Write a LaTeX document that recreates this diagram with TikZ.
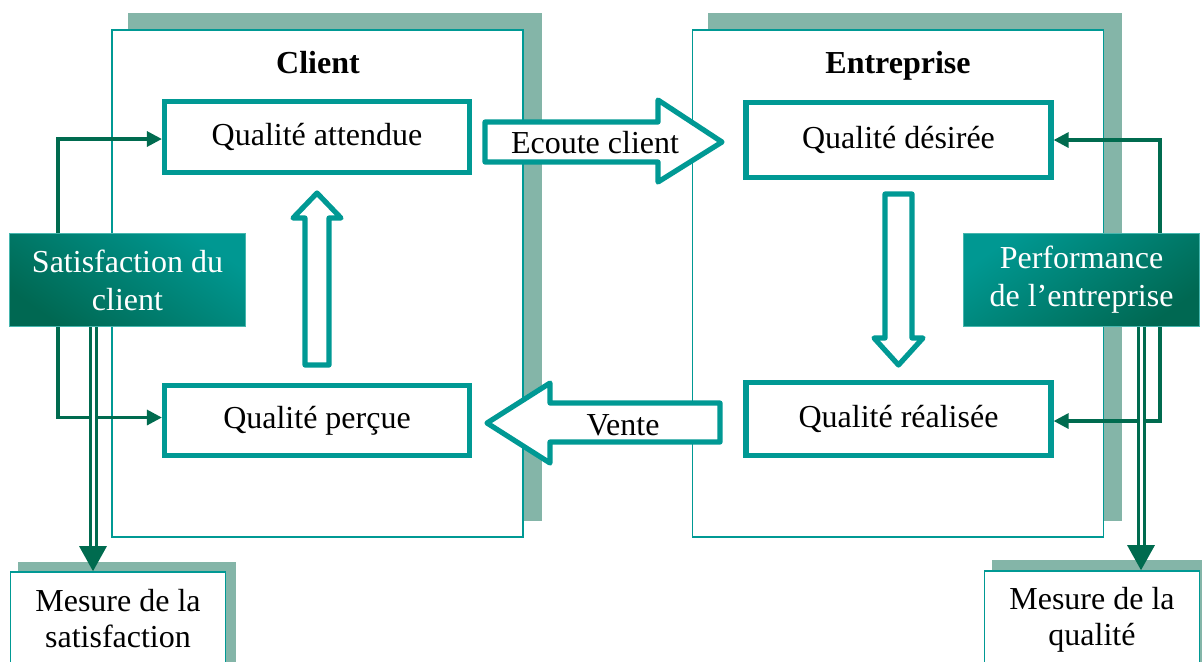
\documentclass[tikz,border=0pt]{standalone}
\usepackage{fontspec}
\setmainfont{Liberation Serif}
\usetikzlibrary{arrows.meta}
\definecolor{teal1}{RGB}{0,153,148}
\definecolor{deepgreen}{RGB}{0,107,79}
\definecolor{shadowgreen}{RGB}{132,181,168}
\definecolor{gradlight}{RGB}{0,152,146}
\definecolor{graddark}{RGB}{0,104,82}
\definecolor{edgeteal}{RGB}{70,182,174}
\begin{document}
\begin{tikzpicture}[x=0.5pt,y=-0.5pt,
  every node/.style={font=\fontsize{16}{18}\selectfont, inner sep=0pt, align=center},
  panel/.style={draw=teal1, line width=0.6pt, fill=white, minimum width=205.5pt, minimum height=253.5pt},
  paneltitle/.style={font=\fontsize{16}{18}\selectfont\bfseries, anchor=base},
  qbox/.style={draw=teal1, line width=2.6pt, fill=white, minimum width=152.5pt},
  keybox/.style={draw=edgeteal, line width=0.8pt, text=white, minimum width=118pt, minimum height=46.5pt,
    font=\fontsize{16}{19}\selectfont},
  measure/.style={draw=teal1, line width=0.8pt, fill=white, minimum width=107.5pt},
  backplate/.style={fill=shadowgreen},
  blockarrow/.style={draw=teal1, line width=2.6pt, line join=round, fill=white},
  conn/.style={draw=deepgreen, line width=1.6pt, -{Triangle[length=7.5pt,width=7.5pt]}},
  dbl/.style={draw=deepgreen, double=white, double distance=1.5pt, line width=1.5pt, -{Triangle[length=12.5pt,width=13.5pt]}}
]
\useasboundingbox (0,0) rectangle (1202,661);
\clip (0,0) rectangle (1202,661);

% raised plates behind the two panels and the two measure boxes
\fill[backplate] (128,13) rectangle (542,521);
\fill[backplate] (708,13) rectangle (1122,521);
\fill[backplate] (18,562) rectangle (236,680);
\fill[backplate] (992,560) rectangle (1210,680);

% panels
\node[panel] (client) at (317.5,283.5) {};
\node[panel] (firm) at (898,283.5) {};
\node[paneltitle] (clienttitle) at (318,73) {Client};
\node[paneltitle] (firmtitle) at (898,73) {Entreprise};

% quality boxes
\node[qbox, minimum height=35.5pt] (qa) at (317,137) {Qualité attendue};
\node[qbox, minimum height=35pt] (qp) at (317,420.5) {Qualité perçue};
\node[qbox, minimum height=37.5pt] (qd) at (898.5,140) {Qualité désirée};
\node[qbox, minimum height=36.5pt] (qr) at (898.5,419) {Qualité réalisée};

% block arrows
\draw[blockarrow] (485,122) -- (658,122) -- (658,100) -- (722,142) -- (658,182) -- (658,162) -- (485,162) -- cycle;
\node[anchor=base] (ecoute) at (595,153) {Ecoute client};
\draw[blockarrow] (720,403) -- (550,403) -- (550,383) -- (487,423) -- (550,463) -- (550,442) -- (720,442) -- cycle;
\node[anchor=base] (vente) at (623,435) {Vente};
\draw[blockarrow] (305,365) -- (305,218) -- (293,218) -- (317,193) -- (341,218) -- (329,218) -- (329,365) -- cycle;
\draw[blockarrow] (885,194) -- (912,194) -- (912,338) -- (923,338) -- (898.5,365) -- (874,338) -- (885,338) -- cycle;

% measure boxes
\node[measure, minimum height=47pt] (ms) at (118,619) {Mesure de la\\satisfaction};
\node[measure, minimum height=49pt] (mq) at (1092,620) {Mesure de la\\qualité};

% indicator boxes
\node[keybox, top color=gradlight, bottom color=graddark, shading angle=-35] (sat) at (127.5,280) {Satisfaction du\\client};
\node[keybox, top color=gradlight, bottom color=graddark, shading angle=35] (perf) at (1081.5,280) {Performance\\de l’entreprise};

% connectors
\coordinate (lx) at (58,0);
\coordinate (rx) at (1160,0);
\coordinate (ldx) at (93,0);
\coordinate (rdx) at (1141,0);
\draw[conn] (sat.north -| lx) |- ([yshift=-1pt]qa.west);
\draw[conn] (sat.south -| lx) |- ([yshift=1.5pt]qp.west);
\draw[conn] (perf.north -| rx) |- (qd.east);
\draw[conn] (perf.south -| rx) |- ([yshift=-1pt]qr.east);
\draw[dbl] (sat.south -| ldx) -- (ms.north -| ldx);
\draw[dbl] (perf.south -| rdx) -- (mq.north -| rdx);
\end{tikzpicture}
\end{document}
